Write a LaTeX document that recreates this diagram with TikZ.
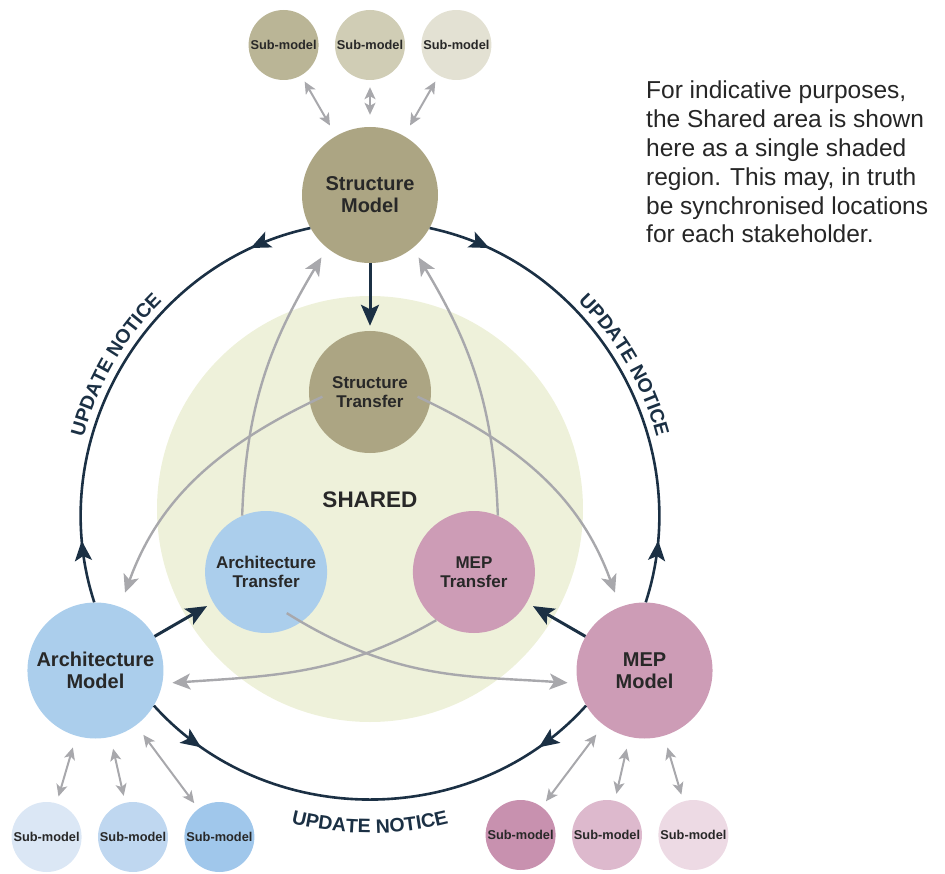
\documentclass[tikz,border=0pt]{standalone}
\usepackage{fontspec}
\setmainfont{Liberation Sans}
\usetikzlibrary{arrows.meta,positioning,decorations.markings,decorations.text}

\definecolor{navy}{RGB}{27,48,68}
\definecolor{linkgrey}{RGB}{168,168,172}
\definecolor{labelgrey}{RGB}{40,40,40}
\definecolor{sharedfill}{RGB}{238,241,218}
\definecolor{struct}{RGB}{172,165,131}
\definecolor{structA}{RGB}{186,181,150}
\definecolor{structB}{RGB}{208,205,181}
\definecolor{structC}{RGB}{227,225,211}
\definecolor{arch}{RGB}{171,206,236}
\definecolor{archA}{RGB}{219,231,245}
\definecolor{archB}{RGB}{191,215,240}
\definecolor{archC}{RGB}{160,199,235}
\definecolor{mep}{RGB}{205,156,182}
\definecolor{mepA}{RGB}{200,145,175}
\definecolor{mepB}{RGB}{221,185,205}
\definecolor{mepC}{RGB}{237,218,228}

\newcommand{\noticefont}{\fontsize{19.5}{20}\selectfont\bfseries}

\tikzstyle{model}=[circle,minimum size=136pt,inner sep=0pt,align=center,text=labelgrey,font=\fontsize{20}{22}\selectfont\bfseries]
\tikzstyle{transfer}=[circle,minimum size=122pt,inner sep=0pt,align=center,text=labelgrey,font=\fontsize{17}{19.5}\selectfont\bfseries]
\tikzstyle{submodel}=[circle,minimum size=70pt,inner sep=0pt,text=labelgrey,font=\fontsize{12.8}{14}\selectfont\bfseries]
\tikzstyle{updatearc}=[navy,line width=2.6pt,postaction={decorate,decoration={markings,
  mark=at position 0.13 with {\arrow{Stealth[length=20pt,width=17pt,inset=4.5pt]}},
  mark=at position 0.87 with {\arrowreversed{Stealth[length=20pt,width=17pt,inset=4.5pt]}}}}]
\tikzstyle{noticelabel}=[decorate,decoration={text along path,text align=center,text color=navy,
  text={|\noticefont|UPDATE NOTICE}}]
\tikzstyle{pusharrow}=[navy,line width=3pt,-{Stealth[length=21pt,width=18pt,inset=4.5pt]}]
\tikzstyle{sharelink}=[linkgrey,line width=2.4pt,-{Stealth[length=18pt,width=16pt,inset=4.5pt]}]
\tikzstyle{sublink}=[linkgrey,line width=2pt,{Stealth[length=12pt,width=11pt,inset=3pt]}-{Stealth[length=12pt,width=11pt,inset=3pt]},shorten <=7pt,shorten >=12pt]

\begin{document}
\begin{tikzpicture}[x=1pt,y=1pt]
\useasboundingbox (-370,-361) rectangle (575,512);
\coordinate (hub) at (0,0);

\node [circle,fill=sharedfill,minimum size=426pt] (shared) at (0,3) {};
\node [text=labelgrey,font=\fontsize{22.5}{24}\selectfont\bfseries] (sharedlabel) at (0,12) {SHARED};

% models on the outer ring, transfers inside the shared area
\node [model,fill=struct] (smodel) at (90:317) {Structure\\Model};
\node [model,fill=arch] (amodel) at (210:317) {Architecture\\Model};
\node [model,fill=mep] (mmodel) at (330:317) {MEP\\Model};

\node [transfer,fill=struct] (strans) at (90:120) {Structure\\Transfer};
\node [transfer,fill=arch] (atrans) at (210:120) {Architecture\\Transfer};
\node [transfer,fill=mep] (mtrans) at (330:120) {MEP\\Transfer};

% sub-models
\node [submodel,fill=structB] (ssub2) at (0,467) {Sub-model};
\node [submodel,fill=structA] (ssub1) [left=16pt of ssub2] {Sub-model};
\node [submodel,fill=structC] (ssub3) [right=16pt of ssub2] {Sub-model};

\node [submodel,fill=archB] (asub2) at (-237,-325) {Sub-model};
\node [submodel,fill=archA] (asub1) [left=16pt of asub2] {Sub-model};
\node [submodel,fill=archC] (asub3) [right=16pt of asub2] {Sub-model};

\node [submodel,fill=mepB] (msub2) at (237,-323) {Sub-model};
\node [submodel,fill=mepA] (msub1) [left=16pt of msub2] {Sub-model};
\node [submodel,fill=mepC] (msub3) [right=16pt of msub2] {Sub-model};

\foreach \m in {s,a,m}
  \foreach \i in {1,2,3}
    \draw [sublink] (\m sub\i) -- (\m model);

% update notices round the ring
\draw [updatearc] (smodel.209) to[bend right=48] (amodel.91);
\draw [updatearc] (amodel.329) to[bend right=48] (mmodel.211);
\draw [updatearc] (mmodel.89) to[bend right=48] (smodel.331);

\path [noticelabel] ([shift={(180:296)}]hub) arc[start angle=180,end angle=120,radius=296];
\path [noticelabel] ([shift={(60:296)}]hub) arc[start angle=60,end angle=0,radius=296];
\path [noticelabel] ([shift={(240:321)}]hub) arc[start angle=240,end angle=300,radius=321];

% model to own transfer
\draw [pusharrow,shorten >=5pt] (smodel) -- (strans);
\draw [pusharrow,shorten >=7pt] (amodel) -- (atrans);
\draw [pusharrow,shorten >=7pt] (mmodel) -- (mtrans);

% transfers read by the other models
\draw [sharelink,shorten >=11pt] (atrans.113) to[out=88,in=239] (smodel.231);
\draw [sharelink,shorten >=11pt] (mtrans.67) to[out=92,in=301] (smodel.309);
\draw [sharelink,shorten <=-14pt,shorten >=15pt] (strans.190) to[out=205,in=70] (amodel.69);
\draw [sharelink,shorten <=-14pt,shorten >=15pt] (strans.350) to[out=335,in=110] (mmodel.111);
\draw [sharelink,shorten >=10pt] (mtrans.232) to[out=210,in=4] (amodel.349);
\draw [sharelink,shorten <=-17pt,shorten >=10pt] (atrans.305) to[out=328,in=176] (mmodel.191);

\node [anchor=north west,inner sep=0pt,align=left,text=black!85,font=\fontsize{24.5}{28.8}\selectfont] (note) at (276,431)
  {For indicative purposes,\\the Shared area is shown\\here as a single shaded\\region. This may, in truth\\be synchronised locations\\for each stakeholder.};
\end{tikzpicture}
\end{document}
